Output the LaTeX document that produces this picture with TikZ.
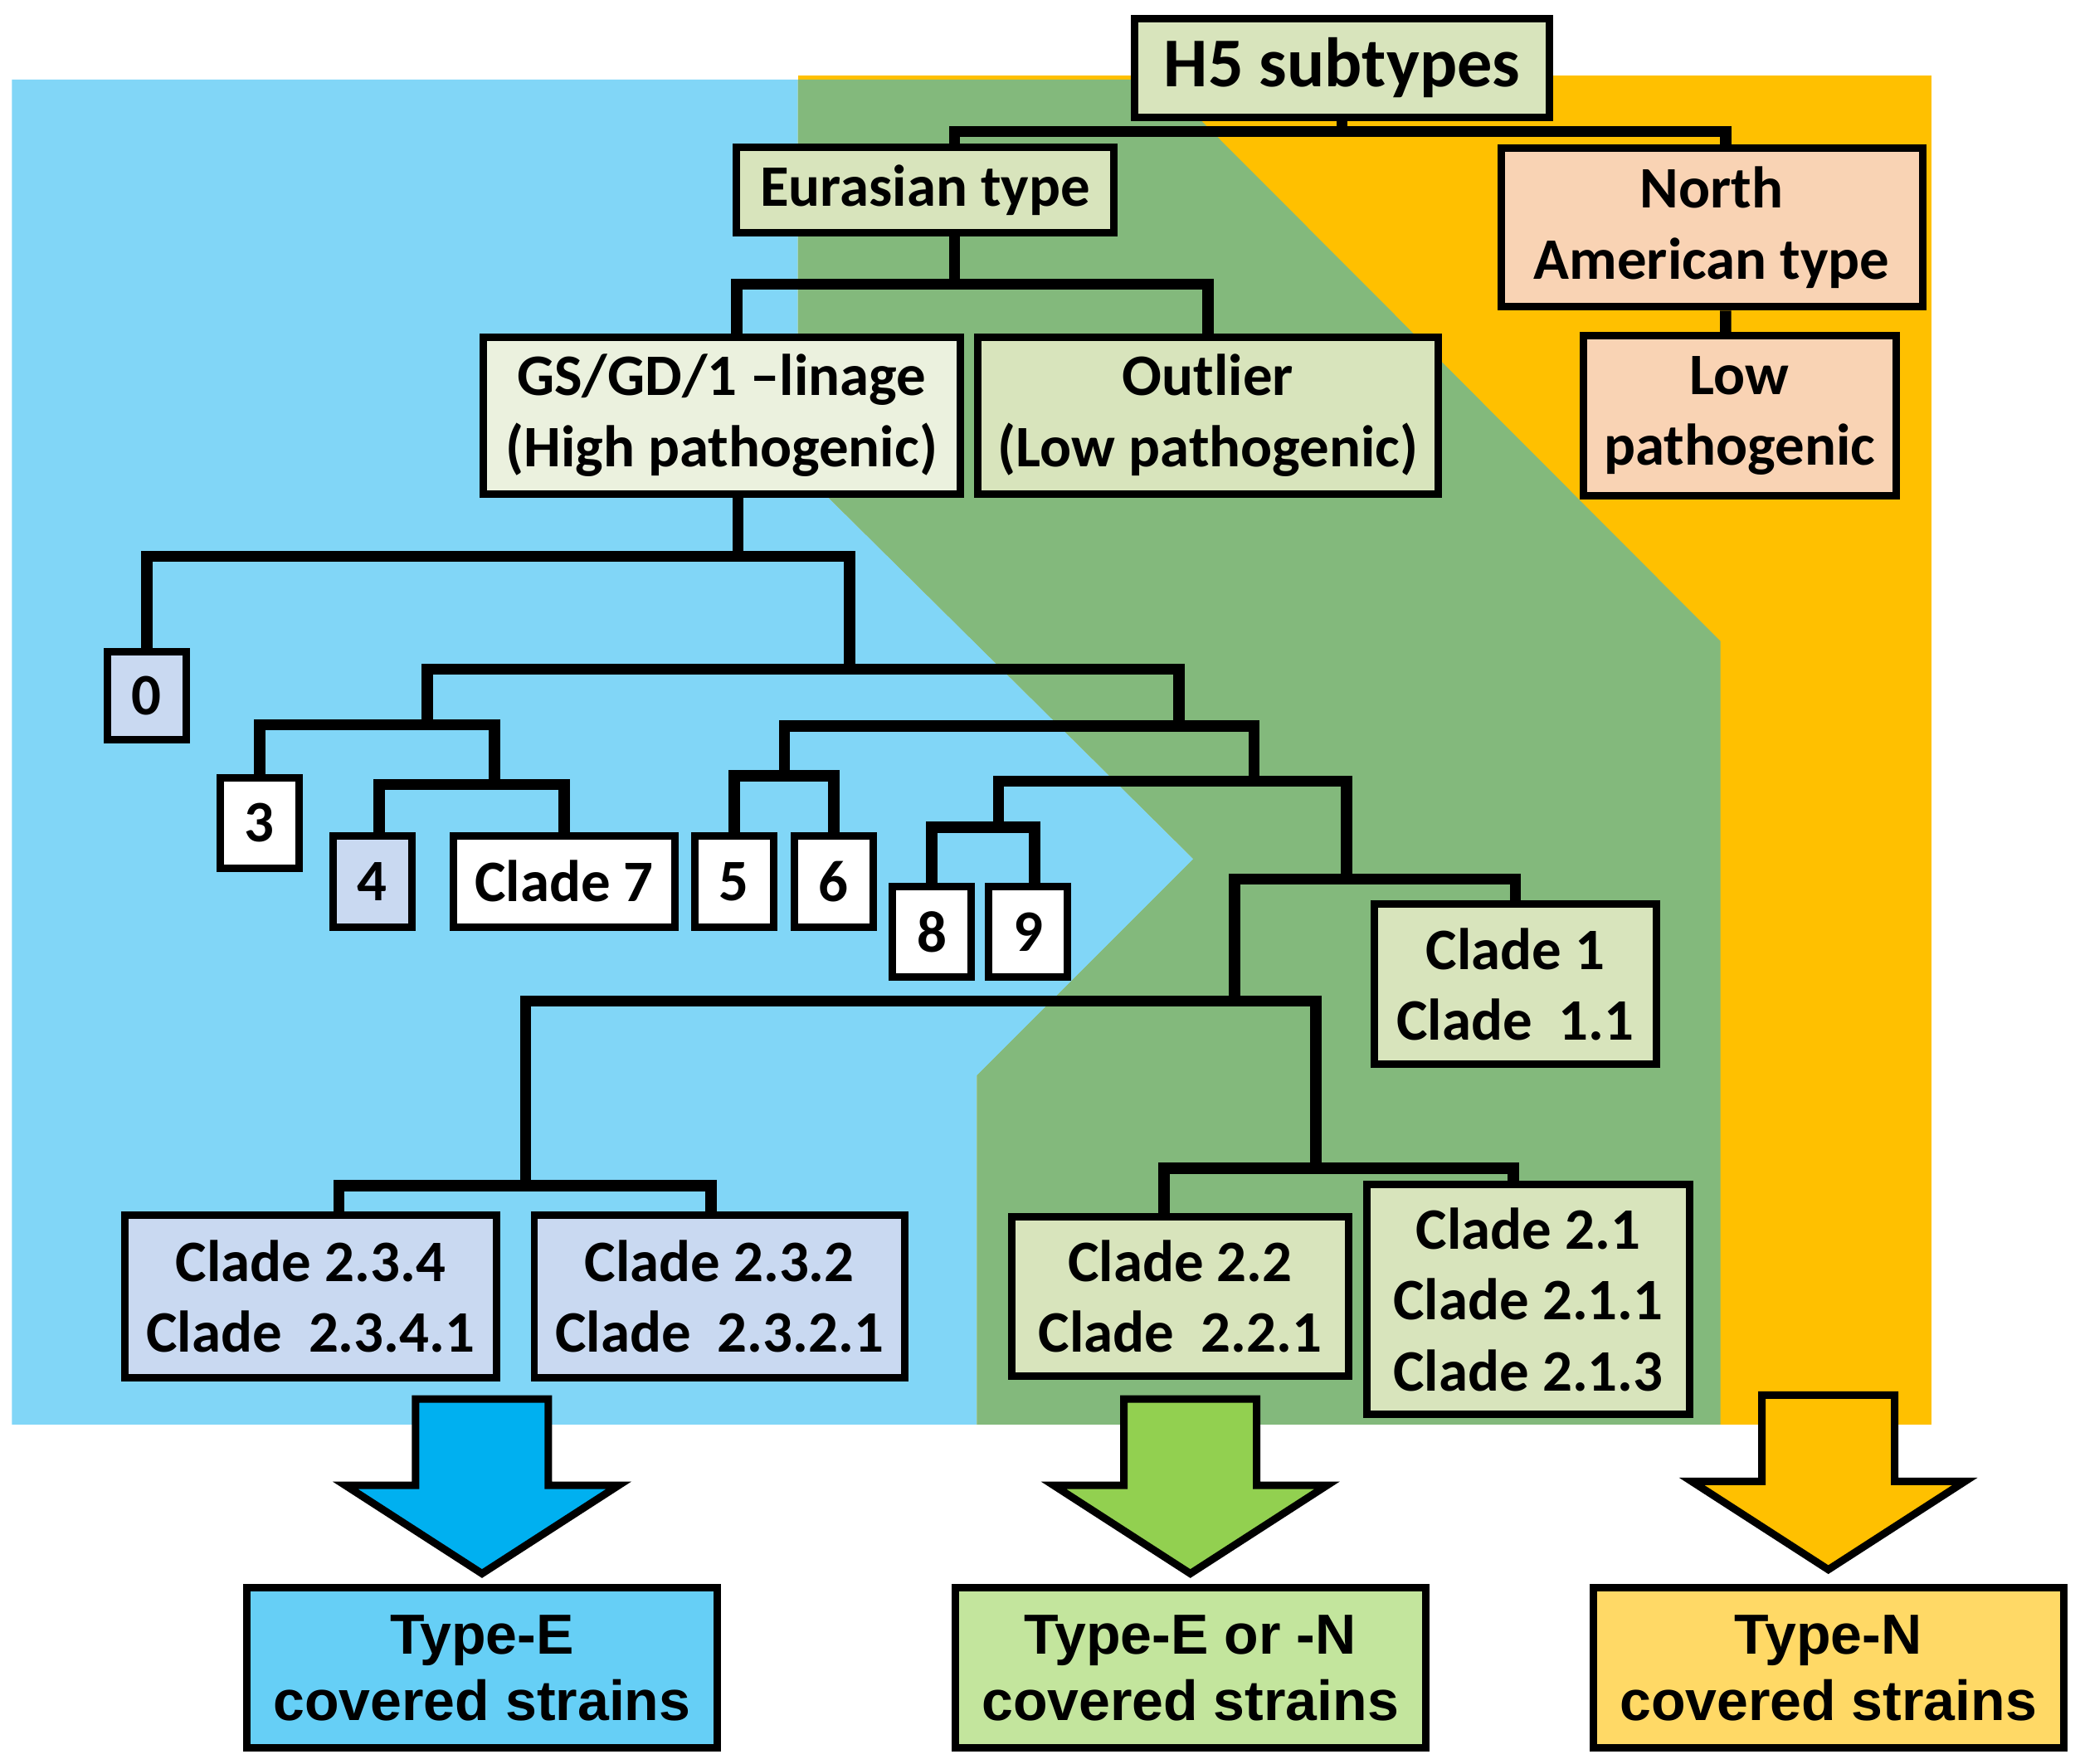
\documentclass[tikz,border=0pt]{standalone}
\usepackage{fontspec}
\setmainfont{Carlito}
\newfontfamily\arialfont{Liberation Sans}
\usetikzlibrary{calc}
\definecolor{skyback}{HTML}{81D6F7}
\definecolor{greenback}{HTML}{83B97C}
\definecolor{orangeback}{HTML}{FFC000}
\definecolor{olivebox}{HTML}{D8E4BC}
\definecolor{paleolive}{HTML}{EBF1DE}
\definecolor{peachbox}{HTML}{F9D3B4}
\definecolor{bluebox}{HTML}{C9D9F1}
\definecolor{arrowE}{HTML}{00B0F0}
\definecolor{arrowEN}{HTML}{92D050}
\definecolor{arrowN}{HTML}{FFC000}
\definecolor{boxE}{HTML}{66CFF6}
\definecolor{boxEN}{HTML}{C3E59D}
\definecolor{boxN}{HTML}{FFD966}

\begin{document}
\begin{tikzpicture}[
  box/.style={draw,line width=1.6pt,inner sep=0pt,align=center,
    font=\fontsize{12.6}{15.2}\selectfont\bfseries},
  num/.style={box,fill=white,minimum width=0.594cm,minimum height=0.684cm},
  link/.style={line width=2.4pt},
  result/.style={draw,line width=1.6pt,inner sep=0pt,align=center,
    minimum width=3.544cm,minimum height=1.203cm,
    font=\arialfont\fontsize{12.1}{14.2}\selectfont\bfseries},
  blockarrow/.style={draw,line width=1.6pt}]
  \useasboundingbox (0,0) rectangle (15.669,-13.2875);
  % coloured areas
  \fill[orangeback] (6.01,-0.57) rectangle (14.55,-10.73);
  \fill[skyback] (0.09,-0.60) -- (6.01,-0.60) -- (6.01,-3.52) -- (8.99,-6.47) -- (7.36,-8.10)
    -- (7.36,-10.73) -- (0.09,-10.73) -- cycle;
  \fill[greenback] (6.01,-0.60) -- (8.74,-0.60) -- (12.96,-4.83) -- (12.96,-10.73) -- (7.36,-10.73)
    -- (7.36,-8.10) -- (8.99,-6.47) -- (6.01,-3.52) -- cycle;
  % boxes
  \node (h5) at (10.11,-0.51) [box,fill=olivebox,minimum width=3.124cm,minimum height=0.744cm,
    font=\fontsize{15}{18}\selectfont\bfseries] {H5 subtypes};
  \node (eur) at (6.97,-1.43) [box,fill=olivebox,minimum width=2.844cm,minimum height=0.644cm] {Eurasian type};
  \node (na) at (12.895,-1.715) [box,fill=peachbox,minimum width=3.174cm,minimum height=1.194cm] {North\\American type};
  \node (low) at (13.105,-3.13) [box,fill=peachbox,minimum width=2.354cm,minimum height=1.204cm] {Low\\pathogenic};
  \node (gs) at (5.435,-3.13) [box,fill=paleolive,minimum width=3.594cm,minimum height=1.184cm] {GS/GD/1 --linage\\(High pathogenic)};
  \node (out) at (9.10,-3.13) [box,fill=olivebox,minimum width=3.464cm,minimum height=1.184cm] {Outlier\\(Low pathogenic)};
  \node (c0) at (1.105,-5.24) [num,fill=bluebox,minimum height=0.664cm] {0};
  \node (c3) at (1.955,-6.20) [num] {3};
  \node (c4) at (2.805,-6.64) [num,fill=bluebox] {4};
  \node (c7) at (4.25,-6.64) [num,minimum width=1.664cm] {Clade 7};
  \node (c5) at (5.53,-6.64) [num] {5};
  \node (c6) at (6.28,-6.64) [num] {6};
  \node (c8) at (7.02,-7.02) [num] {8};
  \node (c9) at (7.745,-7.02) [num] {9};
  \node (c1) at (11.415,-7.415) [box,fill=olivebox,minimum width=2.128cm,minimum height=1.207cm] {Clade 1\\Clade~~1.1};
  \node (c234) at (2.34,-9.765) [box,fill=bluebox,minimum width=2.80cm,minimum height=1.223cm] {Clade 2.3.4\\Clade~~2.3.4.1};
  \node (c232) at (5.42,-9.765) [box,fill=bluebox,minimum width=2.79cm,minimum height=1.223cm] {Clade 2.3.2\\Clade~~2.3.2.1};
  \node (c22) at (8.89,-9.765) [box,fill=olivebox,minimum width=2.535cm,minimum height=1.203cm] {Clade 2.2\\Clade~~2.2.1};
  \node (c21) at (11.513,-9.79) [box,fill=olivebox,minimum width=2.426cm,minimum height=1.731cm] {Clade 2.1\\Clade 2.1.1\\Clade 2.1.3};
  \node (te) at (3.631,-12.563) [result,fill=boxE] {Type-E\\covered strains};
  \node (ten) at (8.967,-12.563) [result,fill=boxEN] {Type-E or -N\\covered strains};
  \node (tn) at (13.773,-12.563) [result,fill=boxN] {Type-N\\covered strains};
  % forks
  \coordinate (fh) at (10.11,-0.99);
  \coordinate (fe) at (7.19,-2.14);
  \coordinate (fg) at (5.56,-4.19);
  \coordinate (f2) at (6.40,-5.04);
  \coordinate (f3) at (3.22,-5.46);
  \coordinate (f4) at (8.88,-5.47);
  \coordinate (f5) at (3.725,-5.91);
  \coordinate (f6) at (5.91,-5.844);
  \coordinate (f7) at (9.447,-5.886);
  \coordinate (f8) at (7.522,-6.23);
  \coordinate (f9) at (10.145,-6.623);
  \coordinate (f10) at (9.30,-7.54);
  \coordinate (f11) at (3.958,-8.93);
  \coordinate (f12) at (9.913,-8.80);
  \draw[link] (h5.south) -- (fh);
  \draw[link] ([xshift=0.22cm]eur.north) |- (fh) -| ([xshift=0.105cm]na.north);
  \draw[link] ([xshift=0.105cm]na.south) -- ([xshift=-0.105cm]low.north);
  \draw[link] (eur.south -| fe) -- (fe);
  \draw[link] ([xshift=0.115cm]gs.north) |- (fe) -| (out.north);
  \draw[link] (gs.south -| fg) -- (fg);
  \draw[link] (c0.north) |- (fg) -| (f2);
  \draw[link] (f3) |- (f2) -| (f4);
  \draw[link] (c3.north) |- (f3) -| (f5);
  \draw[link] ([xshift=0.05cm]c4.north) |- (f5) -| (c7.north);
  \draw[link] (f6) |- (f4) -| (f7);
  \draw[link] (c5.north) |- (f6) -| (c6.north);
  \draw[link] (f8) |- (f7) -| (f9);
  \draw[link] (c8.north) |- (f8) -| ([xshift=0.05cm]c9.north);
  \draw[link] (f10) |- (f9) -| (c1.north);
  \draw[link] (f11) |- (f10) -| (f12);
  \draw[link] ([xshift=0.214cm]c234.north) |- (f11) -| ([xshift=-0.065cm]c232.north);
  \draw[link] ([xshift=-0.12cm]c22.north) |- (f12) -| ([xshift=-0.113cm]c21.north);
  % big arrows
  \draw[blockarrow,fill=arrowE] ([yshift=0.08cm]te.north) -- ++(-1.03,0.665) -- ++(0.53,0)
    -- ++(0,0.65) -- ++(1.0,0) -- ++(0,-0.65) -- ++(0.53,0) -- cycle;
  \draw[blockarrow,fill=arrowEN] ([yshift=0.08cm]ten.north) -- ++(-1.03,0.665) -- ++(0.53,0)
    -- ++(0,0.65) -- ++(1.0,0) -- ++(0,-0.65) -- ++(0.53,0) -- cycle;
  \draw[blockarrow,fill=arrowN] ([yshift=0.11cm]tn.north) -- ++(-1.03,0.665) -- ++(0.53,0)
    -- ++(0,0.65) -- ++(1.0,0) -- ++(0,-0.65) -- ++(0.53,0) -- cycle;
\end{tikzpicture}
\end{document}
